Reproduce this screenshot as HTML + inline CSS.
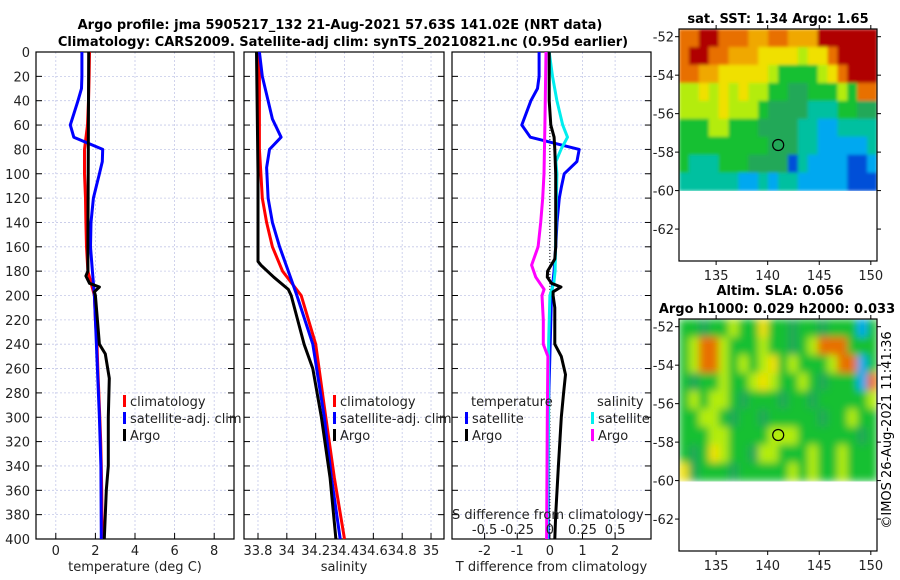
<!DOCTYPE html>
<html><head><meta charset="utf-8"><style>
body{margin:0;background:#fff}
svg{display:block;font-family:"DejaVu Sans","Liberation Sans",sans-serif}
</style></head><body>
<svg id="fig" width="900" height="580" viewBox="0 0 900 580">
<defs>
<filter id="blurSST" x="0" y="0" width="1" height="1"><feGaussianBlur stdDeviation="1.5" edgeMode="duplicate"/></filter>
<filter id="blurSLA" x="0" y="0" width="1" height="1"><feGaussianBlur stdDeviation="4" edgeMode="duplicate"/></filter>
<clipPath id="clipSST"><rect x="679" y="29" width="198" height="162"/></clipPath>
<clipPath id="clipSLA"><rect x="679" y="319" width="198" height="163"/></clipPath>
</defs>
<rect width="900" height="580" fill="#fff"/>
<g font-weight="bold" font-size="13" text-anchor="middle">
<text x="340" y="29">Argo profile: jma 5905217_132 21-Aug-2021 57.63S 141.02E (NRT data)</text>
<text x="343" y="46">Climatology: CARS2009. Satellite-adj clim: synTS_20210821.nc (0.95d earlier)</text>
</g>
<text x="778" y="23" font-weight="bold" font-size="13" text-anchor="middle">sat. SST: 1.34 Argo: 1.65</text>
<text x="780" y="295" font-weight="bold" font-size="13" text-anchor="middle">Altim. SLA: 0.056</text>
<text x="777" y="313" font-weight="bold" font-size="13" text-anchor="middle">Argo h1000: 0.029 h2000: 0.033</text>
<text transform="translate(891,430) rotate(-90)" font-size="13" text-anchor="middle">©IMOS 26-Aug-2021 11:41:36</text>
<g id="plots"></g>
</svg>
<script>
// ---------- data ----------
const tDepth = [0,20,40,60,80,100,120,140,160,180,200,220,240,260,280,300,320,340,360,380,400];
const tClim  = [1.7,1.68,1.65,1.6,1.45,1.45,1.5,1.52,1.55,1.62,1.95,2.0,2.08,2.12,2.17,2.22,2.27,2.3,2.32,2.33,2.35];
const tSatDepth = [0,20,30,40,60,70,80,90,100,110,120,140,160,180,200,220,260,300,340,400];
const tSat = [1.32,1.32,1.3,1.12,0.73,0.91,2.37,2.35,2.2,2.05,1.9,1.78,1.75,1.85,1.95,2.0,2.1,2.2,2.28,2.3];
const argoDepth = [0,40,80,120,160,180,184,190,193,197,200,220,240,248,268,300,340,360,400];
const tArgo = [1.66,1.65,1.64,1.63,1.62,1.62,1.52,1.7,2.2,1.95,2.0,2.1,2.2,2.5,2.7,2.65,2.65,2.55,2.45];
const sDepth = [0,80,100,120,140,160,180,200,240,300,350,400];
const sClim = [33.81,33.81,33.82,33.83,33.86,33.9,33.97,34.1,34.2,34.27,34.33,34.4];
const sSatDepth = [0,20,40,55,70,80,95,120,140,160,180,200,240,300,350,400];
const sSat = [33.81,33.83,33.87,33.9,33.96,33.88,33.86,33.87,33.9,33.95,34.01,34.07,34.18,34.26,34.31,34.37];
const sArgoDepth = [0,100,172,175,185,195,200,240,260,300,350,400];
const sArgo = [33.79,33.8,33.8,33.82,33.91,34.01,34.03,34.12,34.18,34.24,34.3,34.34];
const dTSatDepth = [0,20,30,40,60,70,80,90,100,110,120,140,160,180,200,300,400];
const dTSat = [-0.33,-0.33,-0.38,-0.58,-0.86,-0.6,0.9,0.83,0.44,0.36,0.29,0.22,0.18,0.13,0.05,-0.05,-0.05];
const dTArgoDepth = [0,40,60,70,80,100,160,170,180,185,190,193,197,200,210,240,250,265,280,300,340,380,400];
const dTArgo = [-0.02,-0.02,0.03,0.13,0.15,0.18,0.18,0.15,-0.07,-0.08,0.05,0.34,0.1,0.1,0.15,0.15,0.35,0.48,0.42,0.35,0.26,0.18,0.15];
const dSSatDepth = [0,20,40,60,70,80,90,100,180,190,200,240,300,400];
const dSSat = [-0.005,0.02,0.054,0.098,0.135,0.085,0.046,0.054,0.04,0.03,0.0,-0.01,-0.01,-0.02];
const dSArgoDepth = [0,60,100,120,140,160,175,185,195,200,220,240,250,300,400];
const dSArgo = [-0.03,-0.038,-0.045,-0.055,-0.07,-0.09,-0.14,-0.108,-0.044,-0.06,-0.05,-0.05,-0.015,-0.02,-0.025];
const depthTicks = [0,20,40,60,80,100,120,140,160,180,200,220,240,260,280,300,320,340,360,380,400];
const tTicks = [0,2,4,6,8];
const sTicks = [33.8,34,34.2,34.4,34.6,34.8,35];
const dTTicks = [-2,-1,0,1,2];
const dSTicks = [-0.5,-0.25,0,0.25,0.5];
const dSTickLabels = ["-0.5","-0.25","0","0.25","0.5"];
const latTicks = [-52,-54,-56,-58,-60,-62];
const lonTicks = [135,140,145,150];
const argoLon = 141.02, argoLat = -57.63;
const sstGrid = [
"OORROOOooOOoooRRRRRR",
"ORROOoooYYYYyYYORRRR",
"OOooYYYYYyGGGGyYORRR",
"yyYyYyYyyGGggGGGyGOO",
"yyyyYyyyGggggTTTGGgg",
"GGGyyGGGggggTTBBTTTT",
"GGGGGGGGGgggTTBBBBBT",
"GTTTGGGggggbTBBBBbbB",
"TTTTTTBBTBTTBBBBBbbb"];
const slaGrid = [
"GGgGGyGGYGGgGGgGGGBG",
"GyOOyGGGyGGgGyOOOGGG",
"GyOOyGyGyYGyGGGyOOBG",
"GgGGyGGyYyGGyGgGGGBO",
"GyGyyGgGGGgGGgGGGGGy",
"GGyyGgGGgGGGGGgGGyGG",
"GGGyyGGGGyyyGGGGGGgG",
"GgGYyGGgyyGGGyGGyGGG",
"YgGGGgGGGGGyGyGGyGGG"];
const palette = {R:"#b00000",O:"#e87000",o:"#f0a800",Y:"#f0e000",y:"#b4ec10",G:"#18c030",g:"#22a858",T:"#00c0a0",B:"#00a8f0",b:"#0050d8"};

// ---------- helpers ----------
const NS="http://www.w3.org/2000/svg";
const root=document.getElementById('plots');
function mk(tag,attrs,parent){const e=document.createElementNS(NS,tag);for(const k in attrs)e.setAttribute(k,attrs[k]);(parent||root).appendChild(e);return e;}
const Y0=52,Y1=539;
const yD=d=>Y0+(d/400)*(Y1-Y0);

function panel(name,x0,x1,xmin,xmax,ticks,labels,title){
  const g=mk('g',{});
  
  
  const sx=v=>x0+(v-xmin)/(xmax-xmin)*(x1-x0);
  depthTicks.forEach(d=>{
    const l=mk('line',{x1:x0,x2:x1,y1:yD(d),y2:yD(d),stroke:'#c4c8e8','stroke-width':0.8,'stroke-dasharray':'2,2'},g);
    
    
    mk('line',{x1:x0,x2:x0+6,y1:yD(d),y2:yD(d),stroke:'#000'},g);
    mk('line',{x1:x1-6,x2:x1,y1:yD(d),y2:yD(d),stroke:'#000'},g);
  });
  ticks.forEach((t,i)=>{
    const l=mk('line',{x1:sx(t),x2:sx(t),y1:Y0,y2:Y1,stroke:'#c4c8e8','stroke-width':0.8,'stroke-dasharray':'2,2'},g);
    
    
    mk('line',{x1:sx(t),x2:sx(t),y1:Y1,y2:Y1-6,stroke:'#000'},g);
    const tx=mk('text',{x:sx(t),y:555,'font-size':13,'text-anchor':'middle',fill:'#222'},g);
    tx.textContent=labels[i];
    
    
  });
  const tt=mk('text',{x:(x0+x1)/2,y:571,'font-size':13,'text-anchor':'middle',fill:'#222'},g);
  tt.textContent=title;
  
  
  const fr=mk('rect',{x:x0,y:Y0,width:x1-x0,height:Y1-Y0,fill:'none',stroke:'#000','stroke-width':1.2},g);
  
  
  return {g,sx};
}
function line(p,name,xs,ds,color,sx,w){
  const pts=xs.map((v,i)=>sx(v).toFixed(1)+','+yD(ds[i]).toFixed(1)).join(' ');
  const l=mk('polyline',{points:pts,fill:'none',stroke:color,'stroke-width':w||3,'stroke-linejoin':'round'},p.g);
  
  
}
function legend(p,x,y,color,label){
  const r=mk('rect',{x:x,y:y-6,width:3,height:12,fill:color},p.g);
  
  
  const t=mk('text',{x:x+7,y:y+5,'font-size':13,fill:'#222'},p.g);
  t.textContent=label;
  
  
}

depthTicks.forEach(d=>{
  const t=mk('text',{x:30,y:yD(d)+5,'font-size':13,'text-anchor':'end',fill:'#222'});
  t.textContent=d;
  
  
});

const p1=panel('temperature-panel',36,234,-1,9,tTicks,tTicks.map(String),'temperature (deg C)');
line(p1,'temp-climatology-line',tClim,tDepth,'#f00',p1.sx);
line(p1,'temp-satellite-line',tSat,tSatDepth,'#00f',p1.sx);
line(p1,'temp-argo-line',tArgo,argoDepth,'#000',p1.sx);
legend(p1,123,401,'#f00','climatology');
legend(p1,123,418,'#00f','satellite-adj. clim');
legend(p1,123,435,'#000','Argo');

const p2=panel('salinity-panel',244,444,33.703,35.09,sTicks,sTicks.map(String),'salinity');
line(p2,'sal-climatology-line',sClim,sDepth,'#f00',p2.sx);
line(p2,'sal-satellite-line',sSat,sSatDepth,'#00f',p2.sx);
line(p2,'sal-argo-line',sArgo,sArgoDepth,'#000',p2.sx);
legend(p2,333,401,'#f00','climatology');
legend(p2,333,418,'#00f','satellite-adj. clim');
legend(p2,333,435,'#000','Argo');

const p3=panel('difference-panel',452,651,-3,3.1,dTTicks,dTTicks.map(String),'T difference from climatology');
const sxS=v=>p3.sx(v*4);
const zl=mk('line',{x1:p3.sx(0),x2:p3.sx(0),y1:Y0,y2:Y1,stroke:'#000','stroke-width':1,'stroke-dasharray':'1,2'},p3.g);


line(p3,'dT-satellite-line',dTSat,dTSatDepth,'#00f',p3.sx);
line(p3,'dS-satellite-line',dSSat,dSSatDepth,'#0ee',sxS);
line(p3,'dS-argo-line',dSArgo,dSArgoDepth,'#f0f',sxS);
line(p3,'dT-argo-line',dTArgo,dTArgoDepth,'#000',p3.sx);
const lt=mk('text',{x:471,y:406,'font-size':13,fill:'#222'},p3.g);lt.textContent='temperature';


const ls=mk('text',{x:597,y:406,'font-size':13,fill:'#222'},p3.g);ls.textContent='salinity';


legend(p3,465,418,'#00f','satellite');
legend(p3,465,435,'#000','Argo');
legend(p3,591,418,'#0ee','satellite');
legend(p3,591,435,'#f0f','Argo');
const sT=mk('text',{x:452,y:519,'font-size':13,fill:'#222'},p3.g);sT.textContent='S difference from climatology';


dSTicks.forEach((v,i)=>{
  const t=mk('text',{x:sxS(v),y:534,'font-size':13,'text-anchor':'middle',fill:'#222'},p3.g);
  t.textContent=dSTickLabels[i];
  
  
});

const LON0=131.4,LON1=150.6,LAT0=-51.6,LAT1=-63.66,LATD=-60;
function map(name,top,grid,labelY,clip,filt){
  const g=mk('g',{});
  
  
  const cg=mk('g',{'clip-path':'url(#'+clip+')'},g);
  const fg=mk('g',{filter:'url(#'+filt+')'},cg);
  const x0=679,x1=877,y1=top+232;
  const sx=v=>x0+(v-LON0)/(LON1-LON0)*(x1-x0);
  const sy=v=>top+(v-LAT0)/(LAT1-LAT0)*(y1-top);
  const rows=grid.length,cols=grid[0].length;
  const cw=(LON1-LON0)/cols, ch=(LATD-LAT0)/rows;
  grid.forEach((row,r)=>{
    [...row].forEach((c,k)=>{
      const ax=sx(LON0+k*cw), ay=sy(LAT0+r*ch);
      const cell=mk('rect',{x:ax.toFixed(1),y:ay.toFixed(1),width:(sx(LON0+(k+1)*cw)-ax+0.5).toFixed(1),height:(sy(LAT0+(r+1)*ch)-ay+0.5).toFixed(1),fill:palette[c]},fg);
      
      
    });
  });
  const fr=mk('rect',{x:x0,y:top,width:x1-x0,height:y1-top,fill:'none',stroke:'#000','stroke-width':1.2},g);
  
  
  latTicks.forEach(v=>{
    mk('line',{x1:x0-4,x2:x0,y1:sy(v),y2:sy(v),stroke:'#000'},g);
    mk('line',{x1:x1,x2:x1+4,y1:sy(v),y2:sy(v),stroke:'#000'},g);
    const t=mk('text',{x:x0-5,y:sy(v)+5,'font-size':13,'text-anchor':'end',fill:'#222'},g);
    t.textContent=v;
    
    
  });
  lonTicks.forEach(v=>{
    mk('line',{x1:sx(v),x2:sx(v),y1:y1,y2:y1+4,stroke:'#000'},g);
    mk('line',{x1:sx(v),x2:sx(v),y1:top-4,y2:top,stroke:'#000'},g);
    const t=mk('text',{x:sx(v),y:labelY,'font-size':13,'text-anchor':'middle',fill:'#222'},g);
    t.textContent=v;
    
    
  });
  const c=mk('circle',{cx:sx(argoLon),cy:sy(argoLat),r:5.5,fill:'none',stroke:'#000','stroke-width':1.2},g);
  
  
}
map('sst-map',29,sstGrid,280,'clipSST','blurSST');
map('sla-map',319,slaGrid,570,'clipSLA','blurSLA');
</script>
</body></html>
